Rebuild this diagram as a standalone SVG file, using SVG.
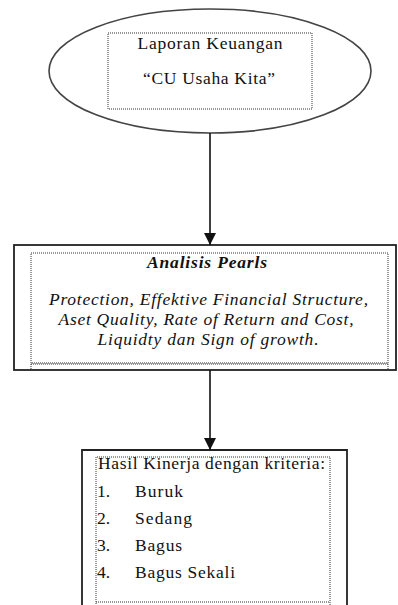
<svg xmlns="http://www.w3.org/2000/svg" width="398" height="605" viewBox="0 0 398 605">
<style>
  .solid{fill:none;stroke:#222;stroke-width:1.8}
  .dot{fill:none;stroke:#333;stroke-width:1;stroke-dasharray:1 1}
  .c{text-anchor:middle}
  .i{font-style:italic}
  .b{font-weight:bold}
  .conn{stroke:#111;stroke-width:1.6;fill:none}
</style>
<defs>
  <marker id="ah" markerWidth="12" markerHeight="12" refX="12" refY="6" orient="auto" markerUnits="userSpaceOnUse" viewBox="0 0 12 12">
    <path d="M0,0 L12,6 L0,12 Z" fill="#111"/>
  </marker>
</defs>
<rect width="398" height="605" fill="#fff"/>
<g id="node-laporan" fill="#111">
  <ellipse class="solid" cx="210" cy="71" rx="161" ry="62" style="stroke:#444;stroke-width:1.6"/>
  <rect class="dot" x="108" y="33" width="204" height="76"/>
  <text class="c" font-family="Liberation Serif, serif" font-size="17.5" x="210" y="49" textLength="145" lengthAdjust="spacing">Laporan Keuangan</text>
  <text class="c" font-family="Liberation Serif, serif" font-size="17.5" x="209" y="84" textLength="132" lengthAdjust="spacing">“CU Usaha Kita”</text>
</g>
<g id="node-analisis" fill="#111">
  <rect class="solid" x="14" y="245" width="382" height="125"/>
  <rect class="dot" x="31" y="253" width="357" height="110"/>
  <path class="dot" d="M31,364 H388 M31,364 V370 M388,364 V370"/>
  <text class="c i b" font-family="Liberation Serif, serif" font-size="17.5" x="207" y="268" textLength="120" lengthAdjust="spacing">Analisis Pearls</text>
  <text class="c i" font-family="Liberation Serif, serif" font-size="17.5" x="208.5" y="305" textLength="319" lengthAdjust="spacing">Protection, Effektive  Financial Structure,</text>
  <text class="c i" font-family="Liberation Serif, serif" font-size="17.5" x="206" y="325" textLength="295" lengthAdjust="spacing">Aset Quality, Rate of Return and Cost,</text>
  <text class="c i" font-family="Liberation Serif, serif" font-size="17.5" x="208" y="345" textLength="221" lengthAdjust="spacing">Liquidty dan Sign of growth.</text>
</g>
<g id="node-hasil" fill="#111">
  <path class="solid" d="M82,606 V450 H347 V606"/>
  <path class="dot" d="M96,606 V457 H330 V606 M96,602 H330"/>
  <text font-family="Liberation Serif, serif" font-size="17.5" x="98" y="469" textLength="227" lengthAdjust="spacing">Hasil Kinerja dengan kriteria:</text>
  <text font-family="Liberation Serif, serif" font-size="17.5" x="97" y="497">1.</text>
  <text font-family="Liberation Serif, serif" font-size="17.5" x="135" y="497" textLength="48" lengthAdjust="spacing">Buruk</text>
  <text font-family="Liberation Serif, serif" font-size="17.5" x="97" y="524">2.</text>
  <text font-family="Liberation Serif, serif" font-size="17.5" x="135" y="524" textLength="57" lengthAdjust="spacing">Sedang</text>
  <text font-family="Liberation Serif, serif" font-size="17.5" x="97" y="551">3.</text>
  <text font-family="Liberation Serif, serif" font-size="17.5" x="135" y="551" textLength="47" lengthAdjust="spacing">Bagus</text>
  <text font-family="Liberation Serif, serif" font-size="17.5" x="97" y="578">4.</text>
  <text font-family="Liberation Serif, serif" font-size="17.5" x="135" y="578" textLength="100" lengthAdjust="spacing">Bagus Sekali</text>
</g>
<g id="connectors">
  <line class="conn" x1="210" y1="133" x2="210" y2="245" marker-end="url(#ah)"/>
  <line class="conn" x1="210" y1="370" x2="210" y2="450" marker-end="url(#ah)"/>
</g>
</svg>
